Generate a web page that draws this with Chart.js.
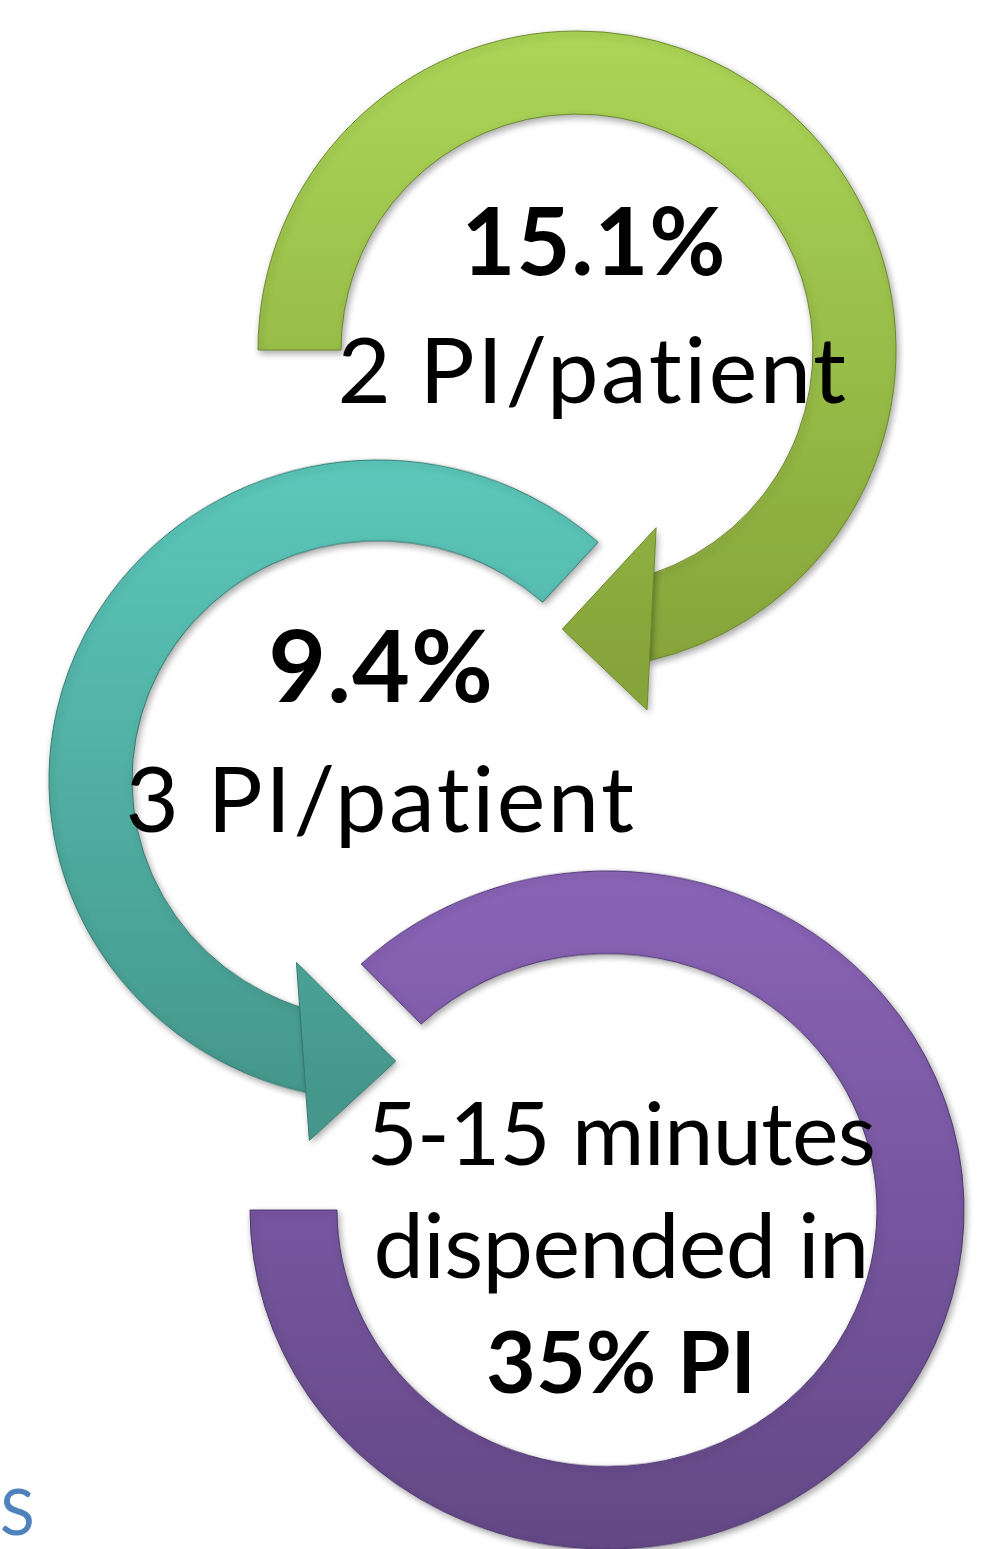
<!DOCTYPE html>
<html>
<head>
<meta charset="utf-8">
<script src="https://cdn.jsdelivr.net/npm/chart.js@4.4.0/dist/chart.umd.min.js"></script>
<style>
  html, body { margin: 0; padding: 0; background: #fff; }
  #page { position: relative; width: 1005px; height: 1549px; overflow: hidden; background: #fff; font-family: Lato, "Open Sans", sans-serif; }
  .ring { position: absolute; }
  .txt { position: absolute; white-space: nowrap; color: #000; line-height: 1; transform: translateX(-50%);
         font-variant-ligatures: none; font-feature-settings: "liga" 0, "clig" 0; }
</style>
</head>
<body>
<div id="page"></div>
<script>
// Datos: tres flechas circulares (angulos en grados, 0 = este, sentido horario)
var arcNames = ["Paso 1", "Paso 2", "Paso 3"];
var arcStart = [180, 102.5, 226.5];
var arcSweep = [257, 209.5, 313.5];
var arrowAt = ["end", "start", "none"];

// Textos
var lineText = ["15.1%", "2 PI/patient", "9.4%", "3 PI/patient", "5-15 minutes", "dispended in", "35% PI"];
var lineBold = [true, false, true, false, false, false, true];
var cornerText = "S";

// Estilos y posiciones
var ringColors = [["#abd657", "#86a43a", "#6f8a2c"], ["#5cc8bb", "#45978b", "#357a70"], ["#8b64b8", "#634886", "#4e3870"]];
var layout = [
  { cx: 577, cy: 350, rOut: 319, rIn: 236, sy: 1 },
  { cx: 378, cy: 780, rOut: 329, rIn: 246, sy: 0.973 },
  { cx: 607, cy: 1210, rOut: 357, rIn: 270, sy: 0.95 }
];
var lineX = [594, 593, 381, 381, 621, 621, 621];
var lineBase = [275, 404, 702, 833, 1165, 1278, 1393];
var lineSize = [93, 92, 100, 92, 88, 90, 86];
var lineSpacing = [1, 2.5, 1, 2.5, -0.6, -0.6, 0];

var page = document.getElementById("page");
Chart.defaults.font.family = "Lato";

function polar(arc, r, a) {
  return { x: arc.x + r * Math.cos(a), y: arc.y + r * Math.sin(a) };
}

// Relleno degradado vertical para cada anillo
function ringFill(i) {
  return function(context) {
    if (context.dataIndex === 1) return "rgba(0,0,0,0)";
    var chart = context.chart;
    var area = chart.chartArea;
    if (!area) return ringColors[i][0];
    var cy = (area.top + area.bottom) / 2;
    var r = layout[i].rOut;
    var g = chart.ctx.createLinearGradient(0, cy - r, 0, cy + r);
    g.addColorStop(0, ringColors[i][0]);
    g.addColorStop(1, ringColors[i][1]);
    return g;
  };
}

// Plugin: sombra y punta de flecha
var arrowPlugin = {
  id: "arrowHead",
  beforeDatasetsDraw: function(chart) {
    var ctx = chart.ctx;
    ctx.save();
    ctx.shadowColor = "rgba(0,0,0,0.35)";
    ctx.shadowBlur = 7;
    ctx.shadowOffsetX = 2;
    ctx.shadowOffsetY = 3;
  },
  afterDatasetsDraw: function(chart, args, opts) {
    var ctx = chart.ctx;
    var arc = chart.getDatasetMeta(0).data[0];
    if (opts.mode !== "none") {
      var d = Math.PI / 180;
      var mid = (arc.innerRadius + arc.outerRadius) / 2;
      var half = (arc.outerRadius - arc.innerRadius) / 2;
      var dir = opts.mode === "end" ? 1 : -1;
      var base = opts.mode === "end" ? arc.endAngle : arc.startAngle;
      var pIn = polar(arc, mid - half * 2.0, base - dir * 11 * d);
      var pOut = polar(arc, mid + half * 2.15, base + dir * 2 * d);
      var tip = polar(arc, mid + 2, base + dir * 16 * d);
      ctx.beginPath();
      ctx.moveTo(pIn.x, pIn.y);
      ctx.lineTo(tip.x, tip.y);
      ctx.lineTo(pOut.x, pOut.y);
      ctx.closePath();
      ctx.fillStyle = arc.options.backgroundColor;
      ctx.fill();
      ctx.shadowColor = "rgba(0,0,0,0)";
      ctx.strokeStyle = arc.options.borderColor;
      ctx.lineWidth = 1;
      ctx.stroke();
    }
    ctx.restore();
  }
};

layout.forEach(function(L, i) {
  var half = L.rOut + 90;
  var canvas = document.createElement("canvas");
  canvas.className = "ring";
  canvas.width = half * 2;
  canvas.height = half * 2;
  canvas.style.left = (L.cx - half) + "px";
  canvas.style.top = (L.cy - half) + "px";
  canvas.style.width = half * 2 + "px";
  canvas.style.height = half * 2 + "px";
  canvas.style.transform = "scaleY(" + L.sy + ")";
  page.appendChild(canvas);

  new Chart(canvas, {
    type: "doughnut",
    data: {
      labels: [arcNames[i], ""],
      datasets: [{
        data: [arcSweep[i], 360 - arcSweep[i]],
        backgroundColor: ringFill(i),
        borderColor: [ringColors[i][2], "rgba(0,0,0,0)"],
        borderWidth: [1, 0],
        hoverOffset: 0
      }]
    },
    options: {
      responsive: false,
      animation: false,
      events: [],
      rotation: arcStart[i] + 90,
      radius: L.rOut,
      cutout: (L.rIn / L.rOut * 100) + "%",
      layout: { padding: 0 },
      plugins: {
        legend: { display: false },
        tooltip: { enabled: false },
        arrowHead: { mode: arrowAt[i] }
      }
    },
    plugins: [arrowPlugin]
  });
});

// Textos encima de los anillos
lineText.forEach(function(t, i) {
  var div = document.createElement("div");
  div.className = "txt";
  div.textContent = t;
  div.style.fontSize = lineSize[i] + "px";
  div.style.fontWeight = lineBold[i] ? "700" : "400";
  div.style.letterSpacing = lineSpacing[i] + "px";
  div.style.left = lineX[i] + "px";
  div.style.top = (lineBase[i] - 0.887 * lineSize[i]) + "px";
  page.appendChild(div);
});

var corner = document.createElement("div");
corner.className = "txt";
corner.textContent = cornerText;
corner.style.fontSize = "64px";
corner.style.color = "#4f81bd";
corner.style.transform = "none";
corner.style.left = "0px";
corner.style.top = (1536 - 0.887 * 64) + "px";
page.appendChild(corner);
</script>
</body>
</html>
